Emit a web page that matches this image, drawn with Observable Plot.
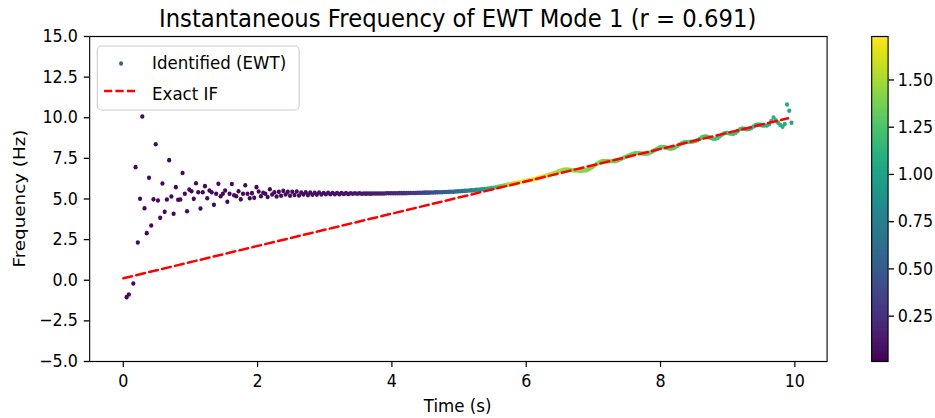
<!DOCTYPE html>
<html>
<head>
<meta charset="utf-8">
<script src="https://cdn.jsdelivr.net/npm/d3@7"></script>
<script src="https://cdn.jsdelivr.net/npm/@observablehq/plot@0.6"></script>
<style>
html, body { margin: 0; padding: 0; overflow: hidden; background: #fff; width: 935px; height: 418px; }
#wrap { position: relative; width: 1027px; height: 418px; transform: scaleX(0.9104); transform-origin: 0 0; font-family: "DejaVu Sans", sans-serif; }
#wrap > * { position: absolute; top: 0; }
</style>
</head>
<body>
<div id="wrap"></div>
<script>
// ---- Data ----
const title = "Instantaneous Frequency of EWT Mode 1 (r = 0.691)";
const xLabel = "Time (s)";
const yLabel = "Frequency (Hz)";
const colorLabelTicks = [0.25, 0.5, 0.75, 1.0, 1.25, 1.5];
const xTicks = [0, 2, 4, 6, 8, 10];
const yTicks = [-5, -2.5, 0, 2.5, 5, 7.5, 10, 12.5, 15];
const seriesNames = ["Identified (EWT)", "Exact IF"];

// sample times: first sample and spacing
const t0 = 0.05, dt = 1 / 30;

// identified instantaneous frequency (Hz), one value per sample
const freq = [
  -1.04, -0.88, null, -0.2, 6.96, 2.32, 5.02, 10.08, 4.43, 2.9, 6.31, 3.37, 4.98, 8.37, 4.91,
  3.84, 5.95, 4.21, 4.97, 7.39, 5.15, 4.09, 5.73, 4.95, 4.97, 6.6, 5.32, 4.25, 5.58, 5.48,
  5.01, 5.97, 5.42, 4.42, 5.42, 5.79, 5.05, 5.52, 5.42, 4.64, 5.32, 5.94, 5.17, 5.32, 5.52,
  4.83, 5.32, 5.92, 5.23, 5.17, 5.48, 4.98, 5.32, 5.85, 5.32, 5.05, 5.36, 5.08, 5.73, 5.46,
  5.17, 5.38, 5.32, 5.12, 5.6, 5.28, 5.42, 5.15, 5.44, 5.2, 5.5, 5.28, 5.44, 5.2, 5.45,
  5.25, 5.46, 5.22, 5.4, 5.28, 5.42, 5.24, 5.4, 5.26, 5.38, 5.27, 5.4, 5.28, 5.37, 5.29,
  5.38, 5.29, 5.37, 5.3, 5.37, 5.3, 5.36, 5.31, 5.36, 5.31, 5.35, 5.32, 5.35, 5.32, 5.35,
  5.32, 5.34, 5.33, 5.34, 5.33, 5.34, 5.34, 5.34, 5.34, 5.34, 5.34, 5.35, 5.35, 5.35, 5.35,
  5.35, 5.35, 5.36, 5.36, 5.36, 5.36, 5.37, 5.37, 5.37, 5.37, 5.38, 5.38, 5.38, 5.39, 5.39,
  5.39, 5.4, 5.4, 5.41, 5.41, 5.42, 5.42, 5.43, 5.43, 5.44, 5.45, 5.45, 5.46, 5.47, 5.48,
  5.49, 5.5, 5.51, 5.52, 5.53, 5.54, 5.56, 5.57, 5.58, 5.6, 5.61, 5.63, 5.65, 5.67, 5.69,
  5.72, 5.75, 5.78, 5.81, 5.84, 5.87, 5.9, 5.93, 5.96, 5.99, 6.02, 6.05, 6.08, 6.11, 6.14,
  6.16, 6.19, 6.22, 6.26, 6.3, 6.34, 6.38, 6.42, 6.46, 6.5, 6.55, 6.6, 6.65, 6.7, 6.75,
  6.79, 6.81, 6.81, 6.8, 6.78, 6.76, 6.75, 6.74, 6.74, 6.75, 6.76, 6.8, 6.87, 6.96, 7.06,
  7.16, 7.24, 7.3, 7.33, 7.34, 7.33, 7.32, 7.32, 7.33, 7.36, 7.41, 7.47, 7.54, 7.6, 7.66,
  7.72, 7.77, 7.81, 7.83, 7.82, 7.8, 7.79, 7.79, 7.81, 7.86, 7.93, 8.01, 8.09, 8.16, 8.2,
  8.19, 8.16, 8.12, 8.1, 8.12, 8.18, 8.26, 8.35, 8.43, 8.49, 8.51, 8.51, 8.52, 8.54, 8.57,
  8.62, 8.7, 8.79, 8.84, 8.84, 8.8, 8.75, 8.71, 8.71, 8.76, 8.86, 8.97, 9.05, 9.07, 9.05,
  9.02, 9.01, 9.06, 9.18, 9.29, 9.33, 9.32, 9.3, 9.31, 9.36, 9.46, 9.55, 9.58, 9.56, 9.53,
  9.52, 9.52, 9.6, 9.8, 10.02, 9.85, 9.7, 9.55, 9.45, 9.62, 10.82, 10.43, 9.69
];

// colour value (amplitude) per sample
const amp = [
  0.05, 0.05, 0.05, 0.05, 0.05, 0.05, 0.05, 0.05, 0.05, 0.05, 0.05, 0.05, 0.05, 0.05, 0.05,
  0.05, 0.05, 0.05, 0.05, 0.05, 0.05, 0.05, 0.05, 0.05, 0.05, 0.05, 0.05, 0.05, 0.05, 0.05,
  0.05, 0.05, 0.05, 0.05, 0.05, 0.05, 0.05, 0.05, 0.05, 0.05, 0.05, 0.05, 0.05, 0.05, 0.05,
  0.05, 0.05, 0.05, 0.05, 0.05, 0.05, 0.05, 0.05, 0.05, 0.05, 0.05, 0.05, 0.05, 0.05, 0.05,
  0.06, 0.06, 0.06, 0.06, 0.06, 0.06, 0.06, 0.06, 0.06, 0.06, 0.06, 0.06, 0.06, 0.06, 0.06,
  0.06, 0.06, 0.06, 0.06, 0.06, 0.07, 0.07, 0.07, 0.07, 0.07, 0.07, 0.07, 0.08, 0.08, 0.08,
  0.08, 0.08, 0.08, 0.09, 0.09, 0.09, 0.09, 0.1, 0.1, 0.1, 0.1, 0.11, 0.11, 0.11, 0.12,
  0.12, 0.12, 0.13, 0.13, 0.14, 0.14, 0.15, 0.15, 0.16, 0.16, 0.17, 0.18, 0.18, 0.19, 0.2,
  0.21, 0.22, 0.23, 0.24, 0.25, 0.26, 0.27, 0.28, 0.29, 0.3, 0.31, 0.33, 0.34, 0.35, 0.37,
  0.38, 0.4, 0.41, 0.43, 0.44, 0.46, 0.48, 0.5, 0.52, 0.54, 0.56, 0.58, 0.6, 0.62, 0.64,
  0.66, 0.69, 0.72, 0.75, 0.78, 0.81, 0.84, 0.87, 0.9, 0.94, 0.98, 1.02, 1.06, 1.1, 1.15,
  1.2, 1.25, 1.3, 1.35, 1.4, 1.45, 1.5, 1.54, 1.58, 1.62, 1.65, 1.68, 1.7, 1.71, 1.72,
  1.72, 1.72, 1.71, 1.7, 1.68, 1.66, 1.64, 1.62, 1.6, 1.58, 1.56, 1.54, 1.52, 1.5, 1.48,
  1.47, 1.46, 1.45, 1.44, 1.44, 1.43, 1.43, 1.42, 1.42, 1.42, 1.41, 1.41, 1.41, 1.4, 1.4,
  1.4, 1.39, 1.39, 1.38, 1.38, 1.38, 1.37, 1.37, 1.37, 1.36, 1.36, 1.36, 1.35, 1.35, 1.35,
  1.35, 1.34, 1.34, 1.34, 1.33, 1.33, 1.33, 1.32, 1.32, 1.32, 1.31, 1.31, 1.31, 1.3, 1.3,
  1.3, 1.29, 1.29, 1.29, 1.28, 1.28, 1.28, 1.27, 1.27, 1.27, 1.26, 1.26, 1.26, 1.25, 1.25,
  1.25, 1.24, 1.24, 1.24, 1.23, 1.23, 1.23, 1.22, 1.22, 1.22, 1.21, 1.21, 1.21, 1.2, 1.2,
  1.2, 1.19, 1.19, 1.18, 1.18, 1.17, 1.17, 1.16, 1.16, 1.15, 1.15, 1.14, 1.14, 1.13, 1.13,
  1.12, 1.12, 1.11, 1.11, 1.1, 1.1, 1.09, 1.09, 1.08, 1.08, 1.06, 1.05, 1.04
];

// exact instantaneous frequency (straight line endpoints)
const exactT = [0, 9.9];
const exactF = [0.12, 9.97];

const colorDomain = [0.01, 1.73];

// ---- Build chart ----
const WRAP_W = 1027;
const wrap = document.getElementById("wrap");
const FONT = "DejaVu Sans";

const points = freq.map((f, i) => ({t: t0 + i * dt, f, a: amp[i]})).filter(d => d.f != null);
const exact = exactT.map((t, i) => ({t, f: exactF[i]}));

const main = Plot.plot({
  width: WRAP_W, height: 418,
  marginLeft: 98, marginRight: 119, marginTop: 36, marginBottom: 57,
  style: {fontFamily: FONT, fontSize: "17.5px", color: "#000", background: "transparent", overflow: "visible"},
  x: {domain: [-0.5, 10.48], label: null},
  y: {domain: [-5, 15], label: null},
  color: {type: "linear", scheme: "viridis", domain: colorDomain},
  marks: [
    Plot.dot(points, {x: "t", y: "f", fill: "a", r: 2.3, stroke: null}),
    Plot.line(exact, {x: "t", y: "f", stroke: "#ff0000", strokeWidth: 2.5, strokeDasharray: "10,4.5"}),
    Plot.frame({stroke: "#000", strokeWidth: 1.2}),
    Plot.axisX({ticks: xTicks, tickSize: 6, tickPadding: 7, strokeWidth: 1.3, label: null, fontSize: 17.5}),
    Plot.axisY({ticks: yTicks, tickFormat: d3.format(".1f"), tickSize: 6, tickPadding: 7, strokeWidth: 1.3, label: null, fontSize: 17.5})
  ]
});
wrap.appendChild(main);

// colour bar
const nBands = 240;
const bandStep = (colorDomain[1] - colorDomain[0]) / nBands;
const bands = d3.range(nBands).map(i => colorDomain[0] + i * bandStep);
const cbar = Plot.plot({
  width: 87, height: 418,
  marginLeft: 17, marginRight: 52, marginTop: 36, marginBottom: 57,
  style: {fontFamily: FONT, fontSize: "17.5px", color: "#000", background: "transparent", overflow: "visible"},
  x: {domain: [0, 1], axis: null},
  y: {domain: colorDomain, label: null},
  color: {type: "linear", scheme: "viridis", domain: colorDomain},
  marks: [
    Plot.rect(bands, {x1: 0, x2: 1, y1: d => d, y2: d => d + bandStep * 1.05, fill: d => d + bandStep / 2, shapeRendering: "crispEdges"}),
    Plot.frame({stroke: "#000", strokeWidth: 1.2}),
    Plot.axisY({anchor: "right", ticks: colorLabelTicks, tickFormat: d3.format(".2f"), tickSize: 6, tickPadding: 4.5, strokeWidth: 1.3, label: null, fontSize: 17.5})
  ]
});
cbar.style.left = "940px";
wrap.appendChild(cbar);

// titles and legend overlay
const ov = d3.create("svg").attr("width", WRAP_W).attr("height", 418)
  .style("font-family", FONT).style("overflow", "visible").style("pointer-events", "none");
ov.append("text").attr("x", 502.7).attr("y", 27).attr("text-anchor", "middle")
  .attr("font-size", 25).attr("fill", "#000").text(title);
ov.append("text").attr("x", 502.7).attr("y", 412).attr("text-anchor", "middle")
  .attr("font-size", 18.3).attr("fill", "#000").text(xLabel);
ov.append("text").attr("transform", "translate(28,198.5) rotate(-90)").attr("text-anchor", "middle")
  .attr("font-size", 18.3).attr("fill", "#000").text(yLabel);

const lg = ov.append("g");
lg.append("rect").attr("x", 106.9).attr("y", 46).attr("width", 221.7).attr("height", 64).attr("rx", 4.5)
  .attr("fill", "#fff").attr("fill-opacity", 0.8).attr("stroke", "#cccccc").attr("stroke-width", 1.2);
lg.append("circle").attr("cx", 133).attr("cy", 63.5).attr("r", 2.2).attr("fill", "#33638d");
lg.append("line").attr("x1", 114.3).attr("x2", 148.4).attr("y1", 91).attr("y2", 91)
  .attr("stroke", "#ff0000").attr("stroke-width", 2.5).attr("stroke-dasharray", "9,3.5");
lg.append("text").attr("x", 167).attr("y", 69.5).attr("font-size", 18.3).attr("fill", "#000").text(seriesNames[0]);
lg.append("text").attr("x", 167).attr("y", 100).attr("font-size", 18.3).attr("fill", "#000").text(seriesNames[1]);
wrap.appendChild(ov.node());
</script>
</body>
</html>
